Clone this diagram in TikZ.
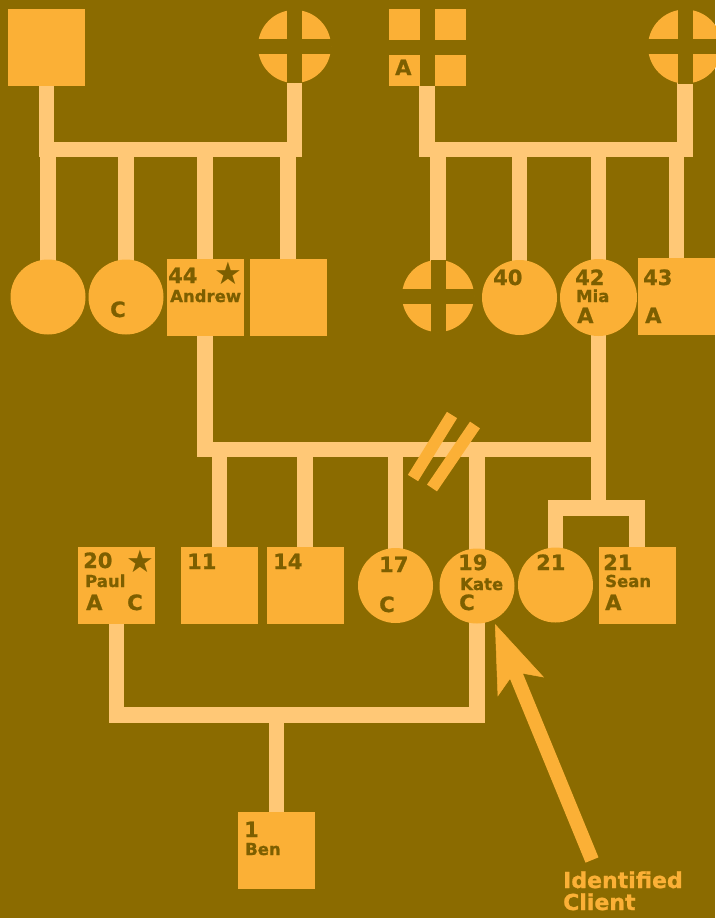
\documentclass[tikz,border=0pt]{standalone}
\usepackage{fontspec}
\setmainfont{DejaVu Sans}[BoldFeatures={FakeBold=1}]
\newfontfamily\starfont{DejaVu Sans}
\usetikzlibrary{arrows.meta}

\definecolor{bgc}{RGB}{139,107,0}
\definecolor{shapec}{RGB}{251,176,54}
\definecolor{linkc}{RGB}{255,200,118}
\definecolor{txtc}{RGB}{125,95,0}

\pgfdeclarelayer{bg}
\pgfsetlayers{bg,main}

\begin{document}
\begin{tikzpicture}[x=1pt, y=-1pt, line join=miter,
  male/.style={rectangle, fill=shapec, inner sep=0pt, minimum size=77pt},
  female/.style={circle, fill=shapec, inner sep=0pt, minimum size=75pt},
  link/.style={draw=linkc, line width=15.5pt},
  gap/.style={draw=bgc, line width=15pt},
  brk/.style={draw=shapec, line width=12pt},
  pointer/.style={draw=shapec, line width=14pt,
    -{Stealth[length=68pt, width=50pt, inset=16pt, line width=0.5pt]}},
  num/.style={anchor=base west, inner sep=0pt, text=txtc, font=\fontsize{21}{21}\selectfont\bfseries},
  nm/.style={anchor=base west, inner sep=0pt, text=txtc, font=\fontsize{16.5}{16.5}\selectfont\bfseries},
  starmk/.style={anchor=center, inner sep=0pt, text=txtc, font=\fontsize{31}{31}\selectfont\starfont},
  caption/.style={anchor=base west, inner sep=0pt, text=shapec, font=\fontsize{22}{22}\selectfont\bfseries}]

  \useasboundingbox (0,0) rectangle (715,918);
  \begin{pgfonlayer}{bg}
    \fill[bgc] (0,0) rectangle (715,918);
  \end{pgfonlayer}

  %% ════ 第一代 ════
  \node[male]   (f1) at (46.5,47) {};
  \node[female, minimum size=73pt] (m1) at (294.5,46.5) {};
  \draw[gap] (m1.north) -- (m1.south);
  \draw[gap] (m1.west) -- (m1.east);

  \node[male]   (f2) at (427,47.5) {};
  \draw[gap] (f2.north) -- (f2.south);
  \draw[gap] (f2.west) -- (f2.east);
  \node[num] (tf2a) at (395,75) {A};

  \node[female, minimum size=74pt] (m2) at (685,46.5) {};
  \draw[gap] (m2.north) -- (m2.south);
  \draw[gap] (m2.west) -- (m2.east);

  %% ════ 第二代 ════
  \node[female] (c1)  at (48,297) {};
  \node[female] (c2)  at (126,297) {};
  \node[num] (tc2c) at (110,317) {C};

  \node[male]   (a44) at (205,297.5) {};
  \node[num] (ta44) at (168,283) {44};
  \node[starmk] (sa44) at (228,273) {★};
  \node[nm]  (na44) at (170,302) {Andrew};

  \node[male]   (s4)  at (288,297.5) {};

  \node[female, minimum size=72pt] (x1) at (438,296) {};
  \draw[gap] (x1.north) -- (x1.south);
  \draw[gap] (x1.west) -- (x1.east);

  \node[female] (c40) at (519.5,297.5) {};
  \node[num] (tc40) at (493,285) {40};

  \node[female, minimum size=77pt] (m42) at (598.5,297.5) {};
  \node[num] (tm42) at (575,285) {42};
  \node[nm]  (nm42) at (576,302) {Mia};
  \node[num] (am42) at (577,323) {A};

  \node[male]   (s43) at (676.5,296.5) {};
  \node[num] (ts43) at (643,285) {43};
  \node[num] (as43) at (645,323) {A};

  %% ════ 第三代 ════
  \node[male]   (p20) at (116.5,585) {};
  \node[num] (tp20) at (83,568) {20};
  \node[starmk] (sp20) at (140,561) {★};
  \node[nm]  (np20) at (85,587) {Paul};
  \node[num] (ap20) at (86,610) {A};
  \node[num] (cp20) at (127,610) {C};

  \node[male]   (s11) at (219.5,585) {};
  \node[num] (ts11) at (187,569) {11};

  \node[male]   (s14) at (305,585) {};
  \node[num] (ts14) at (273,569) {14};

  \node[female] (c17) at (395.5,585.5) {};
  \node[num] (tc17) at (379,572) {17};
  \node[num] (cc17) at (379,612) {C};

  \node[female] (k19) at (477,586) {};
  \node[num] (tk19) at (458,570) {19};
  \node[nm]  (nk19) at (460,590) {Kate};
  \node[num] (ck19) at (459,610) {C};

  \node[female] (c21) at (555.5,585) {};
  \node[num] (tc21) at (536,570) {21};

  \node[male]   (s21) at (637,585) {};
  \node[num] (ts21) at (603,570) {21};
  \node[nm]  (ns21) at (605,587) {Sean};
  \node[num] (as21) at (605,610) {A};

  %% ════ 第四代 ════
  \node[male]   (b1) at (276.5,850.5) {};
  \node[num] (tb1) at (244,837) {1};
  \node[nm]  (nb1) at (245,855) {Ben};

  %% ════ 连线（放在背景层）════
  \coordinate (j1) at (170,149.5);
  \coordinate (j2) at (556,149.5);
  \coordinate (j3) at (400,449.5);
  \coordinate (tw) at (m42.center |- 0,508);
  \coordinate (j4) at (295,715);
  \begin{pgfonlayer}{bg}
    \draw[link] (f1.center) |- (j1) -| (m1.center);
    \foreach \k in {c1,c2,a44,s4}
      \draw[link] (\k.center) -- (\k.center |- j1);
    \draw[link] (f2.center) |- (j2) -| (m2.center);
    \foreach \k in {x1,c40,m42,s43}
      \draw[link] (\k.center) -- (\k.center |- j2);
    \draw[link] (a44.center) |- (j3) -| (m42.center);
    \foreach \k in {s11,s14,c17,k19}
      \draw[link] (\k.center) -- (\k.center |- j3);
    \draw[link] (c21.center) |- (tw) -| (s21.center);
    \draw[link] (tw) -- (tw |- j3);
    \draw[link] (p20.center) |- (j4) -| (k19.center);
    \draw[link] (b1.center) -- (b1.center |- j4);
  \end{pgfonlayer}

  % 离婚记号
  \draw[brk] (413,478) -- (452,415);
  \draw[brk] (432,488) -- (475,425);

  %% ════ 标注 ════
  \node[caption] (idl1) at (563,888) {Identified};
  \node[caption] (idl2) at (563,910) {Client};
  \coordinate (tail) at (592,860);
  \coordinate (tipk) at ([shift={(18,38)}]k19.center);
  \draw[pointer] (tail) -- (tipk);
\end{tikzpicture}
\end{document}
